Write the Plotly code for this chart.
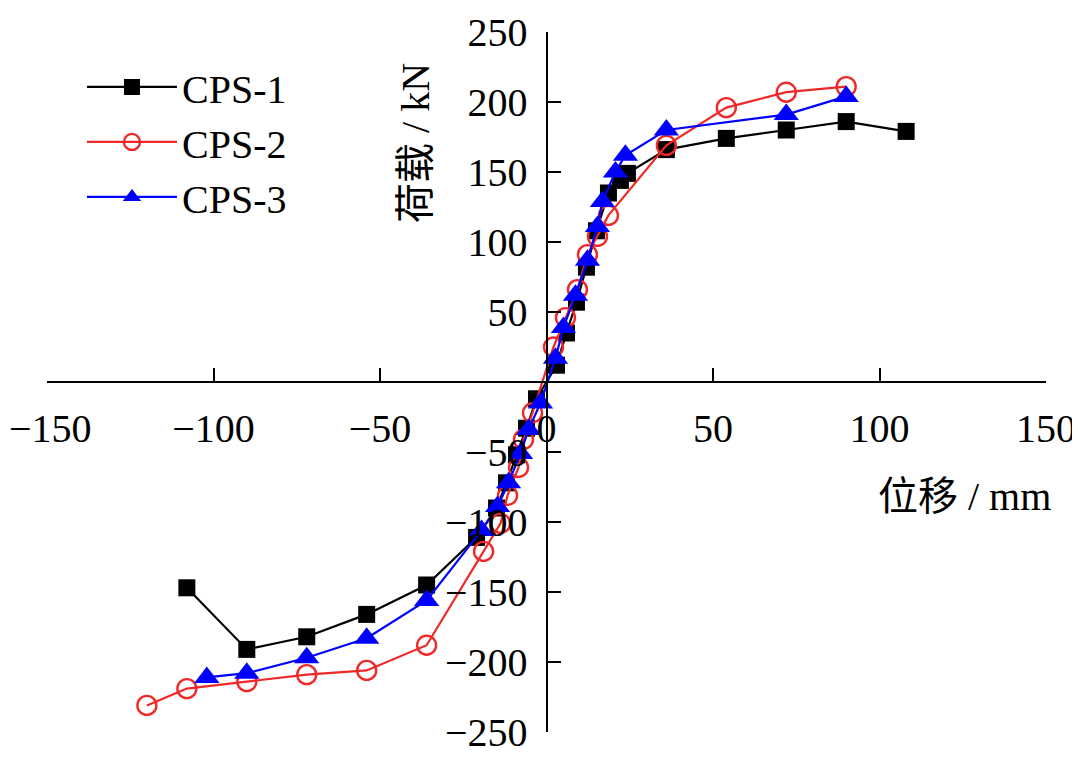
import plotly.graph_objects as go

# ---- data (displacement mm, load kN) ----
cps1_x = [-108, -90, -72, -54, -36, -21, -15, -12, -9, -6, -3, 3, 6, 9, 12, 15, 18.6, 22.2, 24.3, 36, 54, 72, 90, 108]
cps1_y = [-147, -191, -182, -166, -145, -111, -90, -72, -52, -33, -12, 12, 35, 57, 82, 108, 135, 144, 149, 166, 174, 180, 186, 179]

cps2_x = [-120, -108, -90, -72, -54, -36, -18.9, -13.8, -11.7, -8.4, -6.9, -4.2, 2.1, 5.7, 9.3, 12.3, 15.3, 18.6, 36, 54, 72, 90]
cps2_y = [-231, -219, -214, -209, -206, -188, -121, -101, -81, -61, -41, -22, 25, 46, 66, 91, 104, 119, 169, 196, 207, 211]

cps3_x = [-102, -90, -72, -54, -36, -19.5, -14.7, -11.4, -7.8, -5.4, -1.8, 2.7, 5.1, 8.7, 12.3, 15.3, 16.8, 20.7, 23.7, 36, 72, 90]
cps3_y = [-211, -208, -197, -183, -156, -106, -89, -72, -51, -34, -15, 17, 39, 62, 87, 111, 129, 150, 162, 180, 191, 204]

x_ticks = [-150, -100, -50, 0, 50, 100, 150]
y_ticks = [-250, -200, -150, -100, -50, 0, 50, 100, 150, 200, 250]

def lab(v, hide_zero=False):
    if v == 0:
        return "" if hide_zero else "0"
    return ("\u2212" + str(-v)) if v < 0 else str(v)

FONT = "Liberation Serif, Times New Roman, Noto Sans CJK SC, serif"
FS = 40

fig = go.Figure()
fig.add_trace(go.Scatter(x=cps1_x, y=cps1_y, name="CPS-1", mode="lines+markers",
                         line=dict(color="#000000", width=2.2),
                         marker=dict(symbol="square", size=17, color="#000000")))
fig.add_trace(go.Scatter(x=cps2_x, y=cps2_y, name="CPS-2", mode="lines+markers",
                         line=dict(color="#f02828", width=2.2),
                         marker=dict(symbol="circle-open", size=19, color="#f02828",
                                     line=dict(width=2.4, color="#f02828"))))
fig.add_trace(go.Scatter(x=cps3_x, y=cps3_y, name="CPS-3", mode="lines+markers",
                         line=dict(color="#0000ff", width=2.2),
                         marker=dict(symbol="triangle-up", size=22, color="#0000ff")))

# x tick labels: the leftmost one overflows the page edge, so it is drawn as an annotation
x_text = [lab(v) for v in x_ticks]
x_text_axis = ["" if v == x_ticks[0] else t for v, t in zip(x_ticks, x_text)]

fig.update_layout(
    width=1080, height=768,
    margin=dict(l=39, r=42, t=24, b=44),
    paper_bgcolor="white", plot_bgcolor="white",
    font=dict(family=FONT, size=FS, color="black"),
    xaxis=dict(range=[-150, 150], anchor="free", position=0.5, automargin=False,
               showgrid=False, zeroline=False, showline=True, linecolor="black", linewidth=2,
               ticks="inside", ticklen=13, tickwidth=2, tickcolor="black",
               tickvals=x_ticks, ticktext=x_text_axis,
               ticklabelstandoff=11,
               tickfont=dict(family=FONT, size=FS, color="black")),
    yaxis=dict(range=[-250, 250], anchor="free", position=0.5, automargin=False,
               showgrid=False, zeroline=False, showline=True, linecolor="black", linewidth=2,
               ticks="inside", ticklen=13, tickwidth=2, tickcolor="black",
               tickvals=y_ticks, ticktext=[lab(v, True) for v in y_ticks],
               ticklabelstandoff=10,
               tickfont=dict(family=FONT, size=FS, color="black")),
    legend=dict(x=0.035, y=0.968, xanchor="left", yanchor="top",
                bgcolor="rgba(0,0,0,0)", font=dict(family=FONT, size=FS),
                itemwidth=90, tracegroupgap=0),
    showlegend=True,
)

fig.add_annotation(text=x_text[0], xref="x", yref="y", x=x_ticks[0], y=0,
                   xanchor="center", yanchor="top", yshift=-23, xshift=3,
                   showarrow=False, borderpad=0,
                   font=dict(family=FONT, size=FS, color="black"))

fig.add_annotation(text="位移 / mm", xref="paper", yref="paper", x=1.007, y=0.336,
                   xanchor="right", yanchor="middle", showarrow=False,
                   font=dict(family=FONT, size=FS, color="black"))
fig.add_annotation(text="荷载 / kN", xref="paper", yref="paper", x=0.369, y=0.841,
                   xanchor="center", yanchor="middle", showarrow=False, textangle=-90,
                   font=dict(family=FONT, size=FS, color="black"))

fig.write_html("out.html")
